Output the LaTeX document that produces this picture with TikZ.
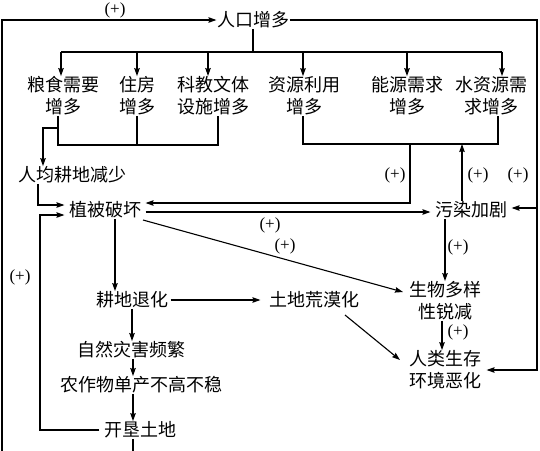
\documentclass[tikz,border=0pt]{standalone}
\usepackage{fontspec}
\setmainfont{Liberation Serif}
\newfontfamily\cjk{Noto Sans CJK SC}
\usetikzlibrary{arrows.meta}
\begin{document}
\begin{tikzpicture}[x=1pt,y=-1pt,
  n/.style={inner sep=0pt, align=center, font=\cjk\fontsize{18}{22}\selectfont},
  pl/.style={font=\fontsize{17}{19}\selectfont, inner sep=0pt},
  arr/.style={-{Stealth[length=8pt,width=5.5pt,inset=1pt]}},
  line width=1.1pt]
\useasboundingbox (0,0) rectangle (540,450);
% nodes
\node[n] (rk) at (253,20) {人口增多};
\node[n] (ls) at (63,96) {粮食需要\\增多};
\node[n] (zf) at (137,96) {住房\\增多};
\node[n] (kj) at (213,96) {科教文体\\设施增多};
\node[n] (zy) at (304,96) {资源利用\\增多};
\node[n] (ny) at (407,96) {能源需求\\增多};
\node[n] (sz) at (491,96) {水资源需\\求增多};
\node[n] (rj) at (72,175) {人均耕地减少};
\node[n] (zb) at (105,210) {植被破坏};
\node[n] (wr) at (471,210) {污染加剧};
\node[n] (gd) at (132,300) {耕地退化};
\node[n] (td) at (314,300) {土地荒漠化};
\node[n] (sw) at (445,301) {生物多样\\性锐减};
\node[n] (rl) at (445,370) {人类生存\\环境恶化};
\node[n] (zr) at (131,350) {自然灾害频繁};
\node[n] (nz) at (141,385) {农作物单产不高不稳};
\node[n] (kk) at (140,430) {开垦土地};
% labels
\node[pl] (p1) at (115,10) {(+)};
\node[pl] (p2) at (395,175) {(+)};
\node[pl] (p3) at (478,175) {(+)};
\node[pl] (p4) at (518,175) {(+)};
\node[pl] (p5) at (270,225) {(+)};
\node[pl] (p6) at (285,246) {(+)};
\node[pl] (p7) at (458,247) {(+)};
\node[pl] (p8) at (458,332) {(+)};
\node[pl] (p9) at (20,277) {(+)};
% top bus
\coordinate (bus) at (0,52);
\draw (rk.south) -- (rk.south |- bus);
\draw (61,52) -- (502,52);
\draw[arr] (61,52) -- (ls.north -| 61,0);
\draw[arr] (zf.north |- bus) -- (zf.north);
\draw[arr] (208,52) -- (kj.north -| 208,0);
\draw[arr] (303,52) -- (zy.north -| 303,0);
\draw[arr] (ny.north |- bus) -- (ny.north);
\draw[arr] (502,52) -- (sz.north -| 502,0);
% outer loop
\draw[arr] (kk.south -| 133,0) -- (133,470) -- (2,470) -- (2,20) -- (rk.west);
\draw[arr] (rk.east) -| (537,370) -- ([xshift=5pt]rl.east);
\draw[arr] (537,208) -- ([xshift=4pt]wr.east |- 0,208);
% left group
\draw (ls.south -| 58,0) -- (58,145) -- (218,145) -- (kj.south -| 218,0);
\draw (zf.south) -- (zf.south |- 0,145);
\draw[arr] (58,128) -- (43,128) -- (rj.north -| 43,0);
\draw[arr] (rj.south -| 38,0) |- ([xshift=-4pt]zb.west |- 0,205);
\draw[arr] ([xshift=-4pt]kk.west) -| (40,215) -- ([xshift=-4pt]zb.west |- 0,215);
% right group
\draw (zy.south -| 303,0) -- (303,144) -- (498,144) -- (sz.south -| 498,0);
\draw[arr] (410,144) |- ([xshift=4pt]zb.east |- 0,203);
\draw[arr] (wr.north -| 462,0) -- (462,144);
\draw[arr] ([xshift=4pt]zb.east |- 0,212) -- ([xshift=-4pt]wr.west |- 0,212);
% diagonal and chains
\draw[arr] (143,220) -- (403,292);
\draw[arr] (zb.south -| 115,0) -- (gd.north -| 115,0);
\draw[arr] ([xshift=2pt]gd.east) -- ([xshift=-8pt]td.west);
\draw[arr] (345,315) -- (400,360);
\draw[arr] (gd.south) -- (zr.north -| gd.south);
\draw[arr] (zr.south -| 133,0) -- (nz.north -| 133,0);
\draw[arr] (nz.south -| 133,0) -- (kk.north -| 133,0);
\draw[arr] (wr.south -| 445,0) -- (sw.north -| 445,0);
\draw[arr] (sw.south -| 442,0) -- (rl.north -| 442,0);
\end{tikzpicture}
\end{document}
